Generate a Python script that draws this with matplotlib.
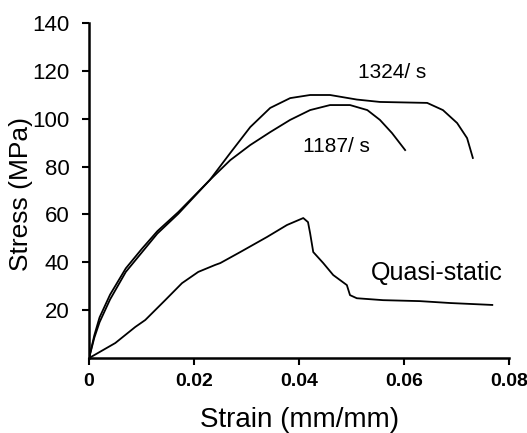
import matplotlib
matplotlib.use("Agg")
import matplotlib.pyplot as plt

strain_1324 = [0, 0.001, 0.002, 0.004, 0.007, 0.010, 0.013, 0.017, 0.0230, 0.0269, 0.0307,
               0.0345, 0.0383, 0.0421, 0.0459, 0.0510, 0.0554, 0.0644, 0.0674, 0.0701,
               0.0720, 0.0731]
stress_1324 = [0, 8.5, 15.0, 24.5, 36.0, 44.0, 52.0, 60.3, 74.4, 85.7, 96.5,
               104.5, 108.6, 109.9, 109.9, 108.0, 107.0, 106.6, 103.6, 98.2,
               91.9, 83.6]

strain_1187 = [0, 0.001, 0.002, 0.004, 0.007, 0.010, 0.013, 0.017, 0.0230, 0.0269, 0.0307,
               0.0345, 0.0383, 0.0421, 0.0459, 0.0497, 0.0530, 0.0554, 0.0577, 0.0602]
stress_1187 = [0, 9.5, 17.0, 26.5, 37.5, 45.5, 53.0, 61.0, 74.4, 82.7, 89.0,
               94.4, 99.5, 103.6, 105.7, 105.7, 103.6, 99.5, 94.0, 86.9]

strain_qs = [0, 0.005, 0.0088, 0.0107, 0.0145, 0.0177, 0.0208, 0.0240, 0.0250, 0.0288,
             0.0339, 0.0377, 0.0408, 0.0417, 0.0421, 0.0427, 0.0446, 0.0465, 0.0491,
             0.0497, 0.0510, 0.0560, 0.0630, 0.0688, 0.0768]
stress_qs = [0, 6.3, 13.0, 15.9, 24.2, 31.3, 36.0, 38.9, 39.7, 44.3,
             50.6, 55.6, 58.5, 56.8, 52.2, 44.3, 39.7, 34.7, 30.5,
             26.3, 25.0, 24.2, 23.8, 23.0, 22.2]

x_ticks = [0, 0.02, 0.04, 0.06, 0.08]
x_tick_labels = ["0", "0.02", "0.04", "0.06", "0.08"]
y_ticks = [20, 40, 60, 80, 100, 120, 140]

plt.rcParams['font.family'] = ['Liberation Sans', 'DejaVu Sans']

fig = plt.figure(figsize=(5.27, 4.33), dpi=100)
ax = fig.add_axes([0.169, 0.173, 0.797, 0.774])

ax.plot(strain_1324, stress_1324, color='black', linewidth=1.3)
ax.plot(strain_1187, stress_1187, color='black', linewidth=1.3)
ax.plot(strain_qs, stress_qs, color='black', linewidth=1.3)

ax.text(0.0577, 119.5, "1324/ s", fontsize=15, ha='center', va='center')
ax.text(0.0472, 88.2, "1187/ s", fontsize=15, ha='center', va='center')
ax.text(0.0663, 35.5, "Quasi-static", fontsize=18, ha='center', va='center')

ax.set_xlim(0, 0.08)
ax.set_ylim(0, 140)
ax.set_xticks(x_ticks)
ax.set_xticklabels(x_tick_labels, fontsize=14, fontweight='bold')
ax.set_yticks(y_ticks)
ax.tick_params(axis='y', labelsize=16, length=5, width=1.5, pad=9)
ax.tick_params(axis='x', length=5, width=1.5, pad=6)

for side in ('top', 'right'):
    ax.spines[side].set_visible(False)
for side in ('left', 'bottom'):
    ax.spines[side].set_linewidth(1.8)

ax.set_xlabel("Strain (mm/mm)", fontsize=20)
ax.set_ylabel("Stress (MPa)", fontsize=19)
ax.xaxis.set_label_coords(0.5, -0.145)
ax.yaxis.set_label_coords(-0.133, 0.49)

fig.savefig("out.png", dpi=100)
